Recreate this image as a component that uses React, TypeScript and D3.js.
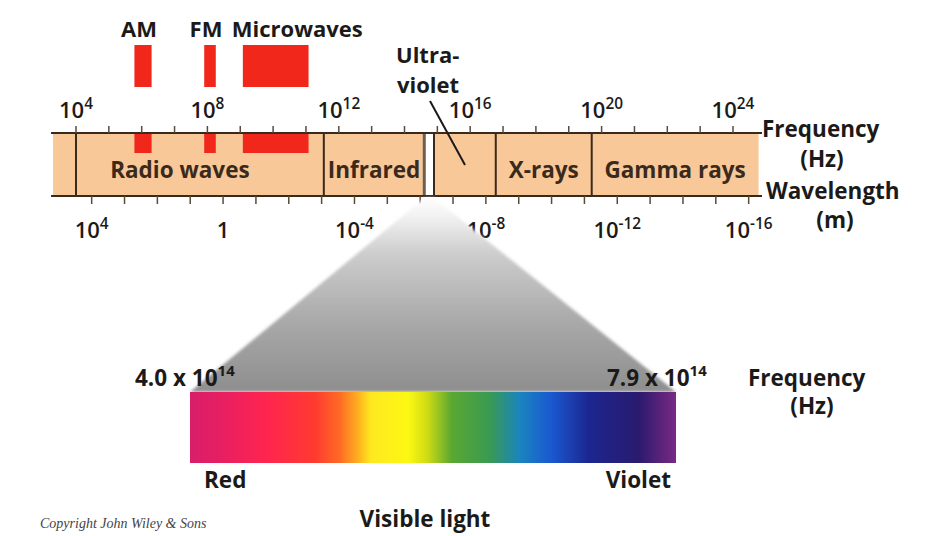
import React from "react";
import * as d3 from "d3";

const width = 936;
const height = 536;

// electromagnetic bands, boundaries in Hz
const bandNames = ["Radio waves", "Infrared", "Visible", "Ultraviolet", "X-rays", "Gamma rays"];
const bandFrom = [1e4, 3.5e11, 4.0e14, 7.9e14, 6e16, 5e19];
const bandTo = [3.5e11, 4.0e14, 7.9e14, 6e16, 5e19, 6e24];
const bandLabels = ["Radio waves", "Infrared", "", "", "X-rays", "Gamma rays"];

// whole strip extends a little past 10^4 on the left
const stripFrom = 2e3;
const stripTo = 6e24;

// radio sub-bands (red marks)
const subNames = ["AM", "FM", "Microwaves"];
const subFrom = [6e5, 8e7, 1.2e9];
const subTo = [2e6, 1.8e8, 1.2e11];

// axis ticks (powers of ten)
const freqTickExps = [4, 5, 6, 7, 8, 9, 10, 11, 12, 13, 14, 15, 16, 17, 18, 19, 20, 21, 22, 23, 24];
const freqLabelExps = [4, 8, 12, 16, 20, 24];
const waveTickExps = [4, 3, 2, 1, 0, -1, -2, -3, -4, -5, -6, -7, -8, -9, -10, -11, -12, -13, -14, -15, -16];
const waveLabelExps = [4, 0, -4, -8, -12, -16];

// visible spectrum colour stops, frequency in THz
const spectrumFreqs = [400, 430, 460, 500, 520, 535, 545, 575, 590, 610, 640, 665, 690, 720, 760, 790];
const spectrumColors = [
  "#d81e6a", "#ea1f60", "#ff2450", "#ff3a30", "#ff6a25", "#ffb020", "#ffe820", "#fcf813",
  "#d0dc14", "#5aa832", "#3a9a50", "#1a84c0", "#1a58d0", "#1c2690", "#2a1a6e", "#7a2a82"
];
const visibleLow = 4.0e14;
const visibleHigh = 7.9e14;

const font = "'Open Sans', 'DejaVu Sans', sans-serif";
const ink = "#1c1a18";
const brown = "#3a2a1c";

const Pow = ({ x, y, exp, size = 22, anchor = "middle" }: any) => (
  <text x={x} y={y} textAnchor={anchor} fontFamily={font} fontSize={size} fontWeight={600} fill={ink}>
    {exp === 0 ? "1" : (
      <>
        10
        <tspan fontSize={size * 0.7} dy={-size * 0.42}>{exp}</tspan>
      </>
    )}
  </text>
);

export default function App() {
  // log frequency -> x, and wavelength = c / f on the same strip
  const fx = d3.scaleLog().domain([1e4, 1e24]).range([76, 733]);
  const wx = d3.scaleLog().domain([3e4, 3e-16]).range([76, 733]);
  const vx = d3.scaleLinear().domain([visibleLow / 1e12, visibleHigh / 1e12]).range([190, 676]);

  const top = 133;
  const bot = 196;
  const specTop = 392;
  const specBot = 463;

  const visL = fx(visibleLow);
  const visR = fx(visibleHigh);
  const conePath = d3.line()([
    [visL, bot + 2],
    [visR, bot + 2],
    [vx(visibleHigh / 1e12), specTop],
    [vx(visibleLow / 1e12), specTop]
  ]) + "Z";

  return (
    <svg width={width} height={height} style={{ position: "absolute", left: 0, top: 0, background: "#fff" }}>
      <defs>
        <linearGradient id="cone" x1="0" y1={bot} x2="0" y2={specTop} gradientUnits="userSpaceOnUse">
          <stop offset="0" stopColor="#ffffff" />
          <stop offset="0.1" stopColor="#f2f2f2" />
          <stop offset="0.3" stopColor="#cccccc" />
          <stop offset="0.65" stopColor="#a8a8a8" />
          <stop offset="1" stopColor="#8e8e8e" />
        </linearGradient>
        <linearGradient id="spectrum" x1={vx(400)} y1="0" x2={vx(790)} y2="0" gradientUnits="userSpaceOnUse">
          {spectrumFreqs.map((f, i) => (
            <stop key={i} offset={(vx(f) - vx(400)) / (vx(790) - vx(400))} stopColor={spectrumColors[i]} />
          ))}
        </linearGradient>
        <filter id="soft" x="-5%" y="-5%" width="110%" height="110%">
          <feGaussianBlur stdDeviation="1.5" />
        </filter>
      </defs>

      {/* sub-band labels and marks above the strip */}
      {subNames.map((n, i) => (
        <g key={n}>
          <rect x={fx(subFrom[i])} y={45} width={fx(subTo[i]) - fx(subFrom[i])} height={42} fill="#f2271c" />
          <text
            x={n === "Microwaves" ? fx(subFrom[i]) - 11 : (fx(subFrom[i]) + fx(subTo[i])) / 2 - 4}
            y={37}
            textAnchor={n === "Microwaves" ? "start" : "middle"}
            fontFamily={font} fontSize={22} fontWeight={700} fill={ink}
          >{n}</text>
        </g>
      ))}

      {/* strip */}
      <rect x={fx(stripFrom)} y={top} width={fx(stripTo) - fx(stripFrom)} height={bot - top} fill="#f8c898" />
      <rect x={visL} y={top} width={visR - visL} height={bot - top} fill="#ffffff" />
      {subNames.map((n, i) => (
        <rect key={n} x={fx(subFrom[i])} y={top} width={fx(subTo[i]) - fx(subFrom[i])} height={20} fill="#f2271c" />
      ))}

      {bandFrom.map((f, i) => (
        <line key={i} x1={fx(f)} x2={fx(f)} y1={top} y2={bot}
          stroke={i === 2 ? "#6e5e50" : brown} strokeWidth={i === 2 ? 3 : 2} />
      ))}
      <line x1={fx(stripFrom) - 2} x2={762} y1={top} y2={top} stroke={brown} strokeWidth={2} />
      <line x1={fx(stripFrom) - 2} x2={762} y1={bot} y2={bot} stroke={brown} strokeWidth={2} />

      {bandLabels.map((l, i) => l && (
        <text key={i} x={(fx(bandFrom[i]) + fx(bandTo[i])) / 2 + (i === 0 ? -20 : 0)} y={178}
          textAnchor="middle" fontFamily={font} fontSize={22.5} fontWeight={700} fill={brown}>{l}</text>
      ))}

      {/* frequency axis */}
      {freqTickExps.map((e) => (
        <line key={e} x1={fx(10 ** e)} x2={fx(10 ** e)} y1={126} y2={top} stroke="#5a4a3a" strokeWidth={1.5} />
      ))}
      {freqLabelExps.map((e) => <Pow key={e} x={fx(10 ** e)} y={118} exp={e} />)}

      {/* wavelength axis */}
      {waveTickExps.map((e) => (
        <line key={e} x1={wx(10 ** e)} x2={wx(10 ** e)} y1={bot} y2={204} stroke="#5a4a3a" strokeWidth={1.5} />
      ))}
      {waveLabelExps.map((e) => <Pow key={e} x={wx(10 ** e)} y={238} exp={e} />)}

      {/* ultraviolet callout */}
      <text x={396} y={63} fontFamily={font} fontSize={22} fontWeight={700} fill={ink}>Ultra-</text>
      <text x={397} y={93} fontFamily={font} fontSize={22} fontWeight={700} fill={ink}>violet</text>
      <line x1={430} y1={101} x2={465} y2={165} stroke={ink} strokeWidth={2} />

      <g fontFamily={font} fontSize={22.5} fontWeight={700} fill={ink}>
        <text x={762} y={137}>Frequency</text>
        <text x={822} y={167} textAnchor="middle">(Hz)</text>
        <text x={766} y={199}>Wavelength</text>
        <text x={835} y={228} textAnchor="middle">(m)</text>
      </g>

      {/* visible light cone and spectrum */}
      <path d={conePath} fill="url(#cone)" filter="url(#soft)" />
      <rect x={vx(400)} y={specTop} width={vx(790) - vx(400)} height={specBot - specTop} fill="url(#spectrum)" />

      <g fontFamily={font} fontSize={22.5} fontWeight={700} fill={ink}>
        <text x={135} y={386}>4.0 x 10<tspan fontSize={15} dy={-10}>14</tspan></text>
        <text x={607} y={386}>7.9 x 10<tspan fontSize={15} dy={-10}>14</tspan></text>
        <text x={748} y={386}>Frequency</text>
        <text x={812} y={414} textAnchor="middle">(Hz)</text>
        <text x={vx(400) + 14} y={488}>Red</text>
        <text x={vx(790) - 5} y={488} textAnchor="end">Violet</text>
        <text x={425} y={527} textAnchor="middle">Visible light</text>
      </g>
      <text x={40} y={528} fontFamily="'Liberation Serif', 'DejaVu Serif', serif" fontStyle="italic"
        fontSize={14} fill="#444">Copyright John Wiley &amp; Sons</text>
    </svg>
  );
}
